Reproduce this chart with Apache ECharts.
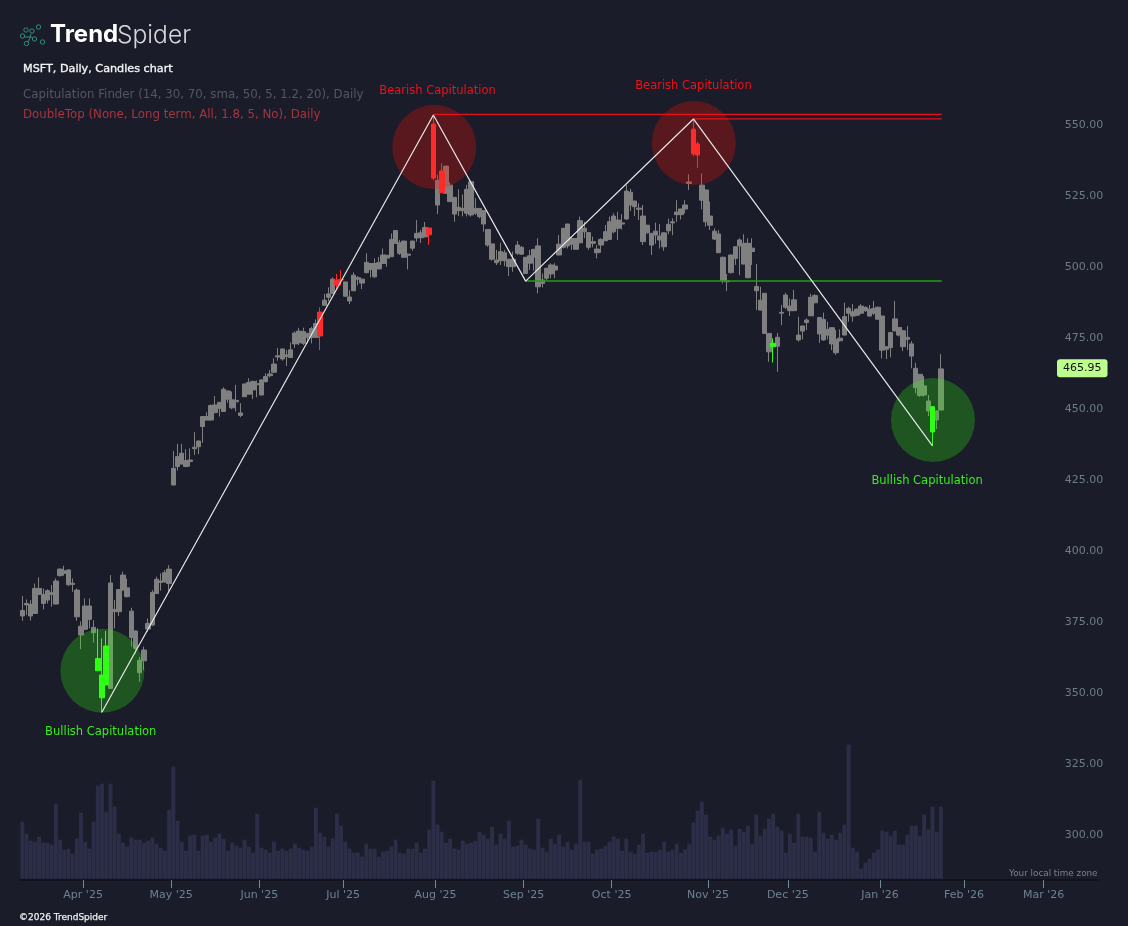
<!DOCTYPE html>
<html><head><meta charset="utf-8">
<style>html,body{margin:0;padding:0;background:#1b1c2a}#c{width:1128px;height:926px}</style>
<script src="https://cdn.jsdelivr.net/npm/echarts@6/dist/echarts.min.js"></script>
</head><body><div id="c"></div>
<script>
// MSFT daily sessions, 11 Mar 2025 - 23 Jan 2026
const bodyTop = [
378.5,381,380.7,386.3,386.3,384.2,385.5,384.8,388.9,393.1,
392.5,392.8,388.1,385.7,373,380.1,380.1,372.6,361.6,355.8,
366,388.2,378.9,385.9,391,386.5,378.3,371.3,361,364.6,
374,384.9,389.5,388.9,391.8,393.1,428.6,432.7,433.9,431.3,
431.5,436,438.2,446.8,446.8,450.7,450.9,451.8,456.4,455.8,
452.7,452.5,448.1,458.3,458.8,459.2,458.4,459.7,460.9,461.8,
465.3,468.2,470.6,468.5,470.3,476.2,476.9,476.7,476.1,477.8,
479.6,483.6,487.8,490,495.2,494.9,495.1,494.2,488.9,496.6,
495.7,495.2,501.1,500.7,500.7,501,503.7,503.6,509.2,512.3,
508,508.6,504,508.6,511.3,511.5,513.4,513.2,549.8,530,
533.3,535,528.3,524,520.5,520.1,526.8,529.5,520.1,520.1,
519.3,512.7,507.6,501.9,504.9,504.5,502.2,502.2,507.2,506.4,
502.9,503.4,505.7,506.9,494.9,499,500.2,499.8,507.5,513.1,
514.6,509.5,509.5,515.8,513.1,511.6,508.4,505.8,509.2,511.9,
515.4,517.4,516,515,526.2,525.8,522.7,520.2,517.4,514.2,
511.3,512.1,510.4,511.5,514.5,515.4,518.8,519.9,521.3,529.4,
548,542.8,528.3,526.6,517.4,512.1,511.1,502.9,494.6,503.7,
506.6,509,507.8,507.8,506.1,492.6,487.8,490.2,476.1,472.6,
474.7,483.5,489.6,485.7,487.9,475.5,478.7,480.8,488.8,489.4,
481.7,481,477.5,478.1,474,474.4,482,484.9,483.7,484.6,
485.7,485.2,484.6,484.9,485.3,482.2,471.4,476.4,481.2,478.2,
477,474.7,472.4,463.8,461.7,457.6,452.3,450.3,448.8,463.6];
const bodyBottom = [
376.6,380.5,376.6,377.5,384.2,381,382.2,384.2,380.8,390.8,
391.6,387.6,387.7,376.3,369.9,371.9,375.4,370.7,357.3,347.8,
352.3,351.1,378.1,378.1,385.7,383.4,369,365.2,356.6,360.8,
372,373.4,384.5,388.4,388.6,388,422.7,429.2,430.1,429.2,
431,435.5,436.2,443.3,445.6,445.6,448.2,449.7,448.6,452.9,
449.9,452,447.2,453.8,454.7,456.2,458,454.4,459.1,461.2,
462.4,467.8,467.1,468,467.6,472.4,472.8,472.6,474.7,474.7,
474.7,475.2,486,488.8,490.2,493.1,494.9,489.2,487.5,491.1,
495.2,493.8,497.5,498.6,496,498.8,500.7,502.6,503.1,507.8,
504.3,502.9,503.6,506.1,509.7,509.8,510.1,510.8,530.8,521.3,
525.6,525.4,522.5,518.1,519.3,519.3,518.4,517.8,518.4,517.2,
514.6,507.2,502.2,501,501.7,501.7,499.6,499.6,504.3,504,
497.2,500.8,502.9,492.5,493.7,495.5,497,498.4,503.7,506.4,
506.9,507.5,505.7,508,511.9,506.4,507.8,504.5,507.2,508.7,
509.2,511.9,513.1,514.6,516.4,521.3,520.7,519.8,508.4,511.5,
507.2,510.7,509,506.6,512.2,515,517.9,517.9,519.9,528.9,
539.3,538.9,523,515.4,514.2,509.3,504.5,494.6,494.3,497.5,
502.5,506.9,500.5,495.7,504.9,491.1,484.3,476.1,469.6,471.4,
471.6,483.2,485.3,484.1,484.1,473.8,476.9,479.9,482.3,486.9,
475.9,473.8,475.5,472.4,469.3,473.5,475.5,483.2,482.2,482.5,
483.2,484.1,482.2,483.2,481.1,470.2,470.5,471.1,477,475.5,
471.4,474,468.1,457,454.2,454.4,448.8,441.4,445.6,449.1];
const highs = [
383.6,382.4,382.2,388,390.2,386.3,386,387.5,389.8,393.3,
394.3,393,389.8,386.3,374.7,382.8,382.8,375.1,372.2,368.7,
371.3,391,382.2,386,392.2,389.8,379.5,371.5,362.2,365.8,
375.7,385.7,390.4,391.6,392.8,394.5,434.7,437.2,437.2,435.3,
435.6,441.3,438.3,447,448.3,451.1,454,452,457.1,456,
455.6,458,451.5,458.4,460.3,459.4,459.5,460,462,463.2,
467.3,471,470.8,470.3,472.9,476.8,478,478.1,476.3,478.4,
481,485.3,490,492.3,495.8,497,498.4,494.3,491.3,497.6,
496.3,495.3,504.3,500.8,502.5,503,506,503.7,511.3,512.4,
509,508.7,504.2,508.7,516,512.5,515.3,513.2,553,532,
536,535.1,529.3,524.1,526.8,525,528.4,529.9,523.7,520.2,
519.4,512.8,507.7,505.5,508,505.5,502.3,504.9,508.6,506.9,
503,505.5,505.8,509.6,497.2,499.3,500.8,500.8,510.7,513.2,
514.7,510.4,509.6,517.2,515.4,511.7,510.2,507.2,509.6,514.3,
517.2,518.4,518.9,518.1,528.3,527,522.8,521.9,521.3,514.3,
511.5,515.1,514.6,511.6,516.5,516.6,523,520,523,532.1,
551.2,543.6,532.4,526.7,522.5,513.1,512.5,503.1,497,503.8,
506.7,509.6,511,509.6,509.6,500.5,492.5,490.3,476.2,474.3,
476.3,486.1,490.4,488.4,491.4,482,478.8,481.4,490,489.9,
481.8,483.4,480.2,478.2,477.3,477.5,486.9,485.5,486.4,484.9,
486.4,485.7,486.1,487.5,485.5,482.3,471.5,476.5,487.5,478.3,
477.1,478.7,473.4,465.8,461.8,461.1,454.4,450.4,448.9,468.8];
const lows = [
374.9,376.9,375,377.4,384,378.9,381,379.9,380.7,390.5,
390.8,387.1,385.1,374.9,364.9,371.8,372.2,367.2,357.2,342.5,
352.2,351,372.2,376.6,385.5,383.1,365.8,363.4,353.4,357.5,
371,373,384.3,385.5,388.3,385.1,422.6,427.8,430,429,
429.2,433.3,433.6,437.6,445.4,445.4,448,446.8,448.5,451.7,
449.4,448.6,446.6,453.8,454.6,453,453.6,454.3,458.8,460.6,
462.3,466.5,466.5,464.6,467.4,471,472,472,472.6,472.6,
474.6,470.2,485.9,487.4,490.1,491.4,493,489,486.4,491,
493,491.7,497.2,495.8,495.7,498.7,500.6,499.6,503,507.7,
503.7,502.8,498.6,505.2,508.4,508,509.9,507.3,530,518.1,
525.5,525.3,522.4,515.4,517.4,517.3,517.3,517.2,517.8,516.6,
511.9,506.6,501.7,500.2,500.2,499.8,496.3,497.8,503.7,503.7,
497,498.4,498.2,490.2,492.3,494.9,495.5,495.5,503.6,506,
506,505.5,505.6,507.8,509.6,505.5,506.4,502.5,504.5,508.6,
509.1,511.3,509,512.7,516,519.2,517.4,516,507.2,511.3,
503.7,507.6,506,505.2,511,510.7,515.4,516.2,518.4,526.6,
538.5,534.4,519.8,513.7,512.5,509,504.4,493.7,491,497.2,
500.2,496.6,500.4,495.5,500.2,484.3,484.2,476,466.1,465.8,
462.6,479,484.7,482.2,484,473.2,474,477.3,482.2,486.7,
472.8,473.5,474,470.2,468.5,473.2,475.4,480.2,480.2,482.2,
483,483.7,482,482.6,481,467.3,467.1,467.7,476.7,475,
469.9,470.2,463.8,455,453.8,453.8,447,436.6,442.4,449];
const volumes = [
57,45,38,37,42,36,36,34,75,39,29,30,25,40,66,37,30,57,93,95,
67,95,72,45,36,32,41,39,39,36,38,41,35,31,28,69,112,58,37,28,
43,44,28,43,44,37,41,45,40,28,36,33,31,39,32,26,65,31,29,26,
37,28,30,28,30,35,31,29,28,32,71,46,42,32,40,65,53,37,30,26,
26,22,35,30,30,22,27,28,32,39,26,25,30,30,36,26,30,49,98,54,
47,36,40,30,29,38,35,36,38,47,44,40,52,34,45,40,58,32,33,39,
34,30,29,60,31,27,40,35,44,32,37,29,35,99,37,37,25,29,30,33,
37,42,40,28,40,27,25,34,45,26,27,27,29,37,27,29,35,26,29,35,
56,68,77,64,42,39,43,51,45,49,33,50,47,53,35,64,43,50,60,65,
52,48,26,45,36,65,42,42,41,27,67,46,40,44,39,46,54,134,31,27,
10,16,20,26,29,48,47,43,48,34,34,44,53,53,43,64,49,72,47,72];

const closedDays = ['2025-04-18','2025-05-26','2025-06-19','2025-07-04','2025-09-01','2025-11-27','2025-12-25','2026-01-01','2026-01-19','2026-02-16'];
const firstSession = '2025-03-11';
const axisSlots = 257;          // sessions + empty slots up to the right of the time axis
const bullishBars = [18,19,20,179,217];
const bearishBars = [71,75,76,97,98,100,160,161];

const tickLabels = ["Apr '25","May '25","Jun '25","Jul '25","Aug '25","Sep '25","Oct '25","Nov '25","Dec '25","Jan '26","Feb '26","Mar '26"];
const tickSlots  = [14.5,35.5,56.5,76.5,98.5,119.5,140.5,163.5,182.5,204.5,224.5,243.5];
const priceTicks = [300,325,350,375,400,425,450,475,500,525,550];

// Pattern: slot, price
const zigzag = [[19,342.8],[98,553],[120,494.5],[160,551.6],[217,436.5]];
const resistanceA = [[98,553.2],[219.2,553.2]];
const resistanceB = [[160,551.6],[219.2,551.6]];
const neckline = [[120,494.5],[219.2,494.5]];
const bullishZones = [[19.1,357.3],[217.1,445.6]];
const bearishZones = [[98.2,541.7],[160.1,543.1]];
const bullishNotes = [[18.7,335.8],[215.7,424.2]];
const bearishNotes = [[99,561.5],[160,563.3]];
const lastPriceMark = [252.7,463.8];
const lastPriceText = '465.95';

const GRAY='#808080', RED='#ff2a2a', GREEN='#2fff14', FONT='"DejaVu Sans", sans-serif';

const sessions=[]; {
  const d=new Date(firstSession+'T12:00:00Z');
  while(sessions.length<axisSlots){
    const s=d.toISOString().slice(0,10), w=d.getUTCDay();
    if(w!==0&&w!==6&&!closedDays.includes(s)) sessions.push(s);
    d.setUTCDate(d.getUTCDate()+1);
  }
}
const blank=['-','-','-','-'];
const ohlc=i=>[bodyBottom[i],bodyTop[i],lows[i],highs[i]];
const isHot=i=>bullishBars.includes(i)||bearishBars.includes(i);
const grayData=bodyTop.map((_,i)=>isHot(i)?blank:ohlc(i));
const hotData=bodyTop.map((_,i)=>{
  if(!isHot(i)) return blank;
  const c=bullishBars.includes(i)?GREEN:RED;
  return {value:ohlc(i),itemStyle:{color:c,color0:c,borderColor:c,borderColor0:c}};
});
const candleBase={xAxisIndex:0,yAxisIndex:0,barWidth:5,silent:true,
  itemStyle:{color:GRAY,color0:GRAY,borderColor:GRAY,borderColor0:GRAY,borderWidth:1}};
const pattern=(data,color,width,z)=>({type:'line',xAxisIndex:1,yAxisIndex:0,data,symbol:'none',silent:true,z,
  lineStyle:{color,width}});
const zone=(data,color)=>({type:'scatter',xAxisIndex:1,yAxisIndex:0,data,symbolSize:84,silent:true,z:3,itemStyle:{color,opacity:1}});
const note=(data,text,color)=>({type:'scatter',xAxisIndex:1,yAxisIndex:0,data,symbolSize:0,silent:true,z:7,itemStyle:{opacity:1},
  label:{show:true,position:'inside',formatter:text,color,fontFamily:FONT,fontSize:11.5}});

const chart=echarts.init(document.getElementById('c'),null,{renderer:'canvas'});
chart.setOption({
  animation:false,backgroundColor:'#1b1c2a',
  grid:[{left:20.2,top:60,width:1078,height:820,containLabel:false},
        {left:20.2,top:733.7,width:1078,height:145,containLabel:false}],
  xAxis:[
    {type:'category',gridIndex:0,data:sessions,show:false,boundaryGap:true},
    {type:'value',gridIndex:0,min:-0.5,max:axisSlots-0.5,position:'bottom',splitLine:{show:false},
      axisLine:{show:true,onZero:false,lineStyle:{color:'#12131a',width:2}},
      axisTick:{show:true,length:8,customValues:tickSlots,lineStyle:{color:'#6f8a96',width:1}},
      axisLabel:{show:true,customValues:tickSlots,margin:10,color:'#6c8290',fontFamily:FONT,fontSize:11,
        formatter:v=>tickLabels[tickSlots.indexOf(v)]||''}},
    {type:'category',gridIndex:1,data:sessions,show:false}
  ],
  yAxis:[
    {type:'value',gridIndex:0,min:283.63,max:572.36,position:'right',splitLine:{show:false},
      axisLine:{show:false},axisTick:{show:false},
      axisLabel:{show:true,inside:true,margin:-5,customValues:priceTicks,color:'#6c7c88',fontFamily:FONT,fontSize:11,
        formatter:v=>'{p|'+v.toFixed(2)+'}',
        rich:{p:{color:'#6c7c88',fontFamily:FONT,fontSize:11,padding:[3,0,0,0]}}}},
    {type:'value',gridIndex:1,min:0,max:145,show:false,splitLine:{show:false}}
  ],
  series:[
    {type:'bar',xAxisIndex:2,yAxisIndex:1,data:volumes,barWidth:3.9,silent:true,z:1,itemStyle:{color:'#2c2e48'}},
    Object.assign({type:'candlestick',data:grayData,z:2},candleBase),
    zone(bearishZones,'rgba(255,14,0,0.276)'),
    zone(bullishZones,'rgba(43,255,2,0.25)'),
    Object.assign({type:'candlestick',data:hotData,z:4},candleBase),
    pattern(resistanceA,'#e6101c',1.2,5),
    pattern(resistanceB,'#e6101c',1.2,5),
    pattern(neckline,'#21a010',1.5,5),
    pattern(zigzag,'#e8e8e8',1.2,6),
    note(bearishNotes,'Bearish Capitulation','#f01018'),
    note(bullishNotes,'Bullish Capitulation','#35f018'),
    {type:'scatter',xAxisIndex:1,yAxisIndex:0,data:[lastPriceMark],symbolSize:0,silent:true,z:8,itemStyle:{opacity:1},
      label:{show:true,position:'inside',formatter:lastPriceText,color:'#101010',backgroundColor:'#bcff8f',
        borderRadius:3,padding:[4,6,3,6],fontFamily:FONT,fontSize:11}}
  ],
  graphic:{elements:[
    {type:'text',x:50,y:23,style:{text:'Trend',fill:'#ffffff',font:'700 24px Inter, sans-serif'}},
    {type:'text',x:117,y:23,style:{text:'Spider',fill:'#d8d8dc',font:'300 24.6px Inter, sans-serif'}},
    {type:'text',x:23,y:63.5,style:{text:'MSFT, Daily, Candles chart',fill:'#f4f4f4',stroke:'#f4f4f4',lineWidth:0.35,font:'11.2px "DejaVu Sans", sans-serif'}},
    {type:'text',x:23,y:88.5,style:{text:'Capitulation Finder (14, 30, 70, sma, 50, 5, 1.2, 20), Daily',fill:'#55565f',font:'11.8px "DejaVu Sans", sans-serif'}},
    {type:'text',x:23,y:108.5,style:{text:'DoubleTop (None, Long term, All, 1.8, 5, No), Daily',fill:'#a8343c',font:'11.8px "DejaVu Sans", sans-serif'}},
    {type:'text',x:1009,y:869,style:{text:'Your local time zone',fill:'#76828c',font:'8.8px "DejaVu Sans", sans-serif'}},
    {type:'text',x:19,y:913,style:{text:'©2026 TrendSpider',fill:'#eeeeee',stroke:'#eeeeee',lineWidth:0.25,font:'9px "DejaVu Sans", sans-serif'}},
    ...[[22.5,36],[26,30],[26.5,43.5],[32,31],[34.5,39],[38.5,27],[42.5,42]].map(p=>({type:'circle',shape:{cx:p[0],cy:p[1],r:2.2},
      style:{fill:'none',stroke:'#2f8f7a',lineWidth:1}})),
    ...[[[31,34],[28.5,42]],[[25,37],[31,37]],[[31,37],[33,38]]].map(l=>({type:'line',
      shape:{x1:l[0][0],y1:l[0][1],x2:l[1][0],y2:l[1][1]},style:{stroke:'#2f8f7a',lineWidth:1}}))
  ]}
});
</script></body></html>
